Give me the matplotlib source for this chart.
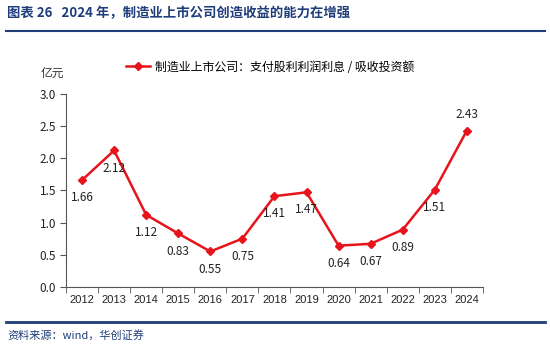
import matplotlib
matplotlib.use("Agg")
import matplotlib.pyplot as plt

plt.rcParams['font.family'] = ['Noto Sans CJK SC', 'DejaVu Sans']

years = ["2012", "2013", "2014", "2015", "2016", "2017", "2018",
         "2019", "2020", "2021", "2022", "2023", "2024"]
values = [1.66, 2.12, 1.12, 0.83, 0.55, 0.75, 1.41, 1.47, 0.64, 0.67, 0.89, 1.51, 2.43]
series_name = "制造业上市公司：支付股利利润利息 / 吸收投资额"

red = "#E8141B"
navy = "#1F3D7A"

fig = plt.figure(figsize=(5.5, 3.49), dpi=100)
ax = fig.add_axes([0.12, 0.178, 0.758, 0.553])

x = list(range(len(years)))
ax.plot(x, values, color=red, lw=1.8, marker="D", ms=4.5, label=series_name)

# data labels: below each point, last one above
for i, v in enumerate(values):
    if i == len(values) - 1:
        ax.annotate(f"{v:.2f}", (i, v), xytext=(0, 7), textcoords="offset points",
                    ha="center", va="bottom", fontsize=8.5, color="#222222")
    else:
        ax.annotate(f"{v:.2f}", (i, v), xytext=(0, -8), textcoords="offset points",
                    ha="center", va="top", fontsize=8.5, color="#222222")

ax.set_xlim(-0.5, len(years) - 0.5)
ax.set_ylim(0, 3.0)
ax.set_yticks([0, 0.5, 1.0, 1.5, 2.0, 2.5, 3.0])
ax.set_yticklabels([f"{t:.1f}" for t in ax.get_yticks()], fontsize=8.5, color="#222222")
ax.set_xticks(x)
ax.set_xticklabels(years, fontsize=8, family="Liberation Sans", color="#222222")
ax.set_xticks([i - 0.5 for i in range(len(years) + 1)], minor=True)
ax.tick_params(axis="x", which="major", length=0, pad=6)
ax.tick_params(axis="x", which="minor", length=4, color="#555555")
ax.tick_params(axis="y", length=4, color="#555555", pad=3)

for side in ["top", "right"]:
    ax.spines[side].set_visible(False)
ax.spines["left"].set_color("#555555")
ax.spines["bottom"].set_color("#555555")

ax.legend(loc="lower center", bbox_to_anchor=(0.49, 1.08), frameon=False,
          fontsize=8.6, handlelength=2.0, handletextpad=0.4, borderaxespad=0)

fig.text(0.073, 0.79, "亿元", fontsize=8.5, color="#333333", ha="left", va="center")

# header and footer
fig.text(0.013, 0.962, "图表 26   2024 年，制造业上市公司创造收益的能力在增强",
         fontsize=9.6, fontweight="bold", color=navy, ha="left", va="center")
fig.add_artist(plt.Line2D([0.01, 0.99], [0.911, 0.911], color=navy, lw=1.5))
fig.add_artist(plt.Line2D([0.01, 0.99], [0.078, 0.078], color=navy, lw=2))
fig.text(0.013, 0.04, "资料来源：wind，华创证券", fontsize=8, style="italic",
         color=navy, ha="left", va="center")

fig.savefig("out.png", dpi=100)
